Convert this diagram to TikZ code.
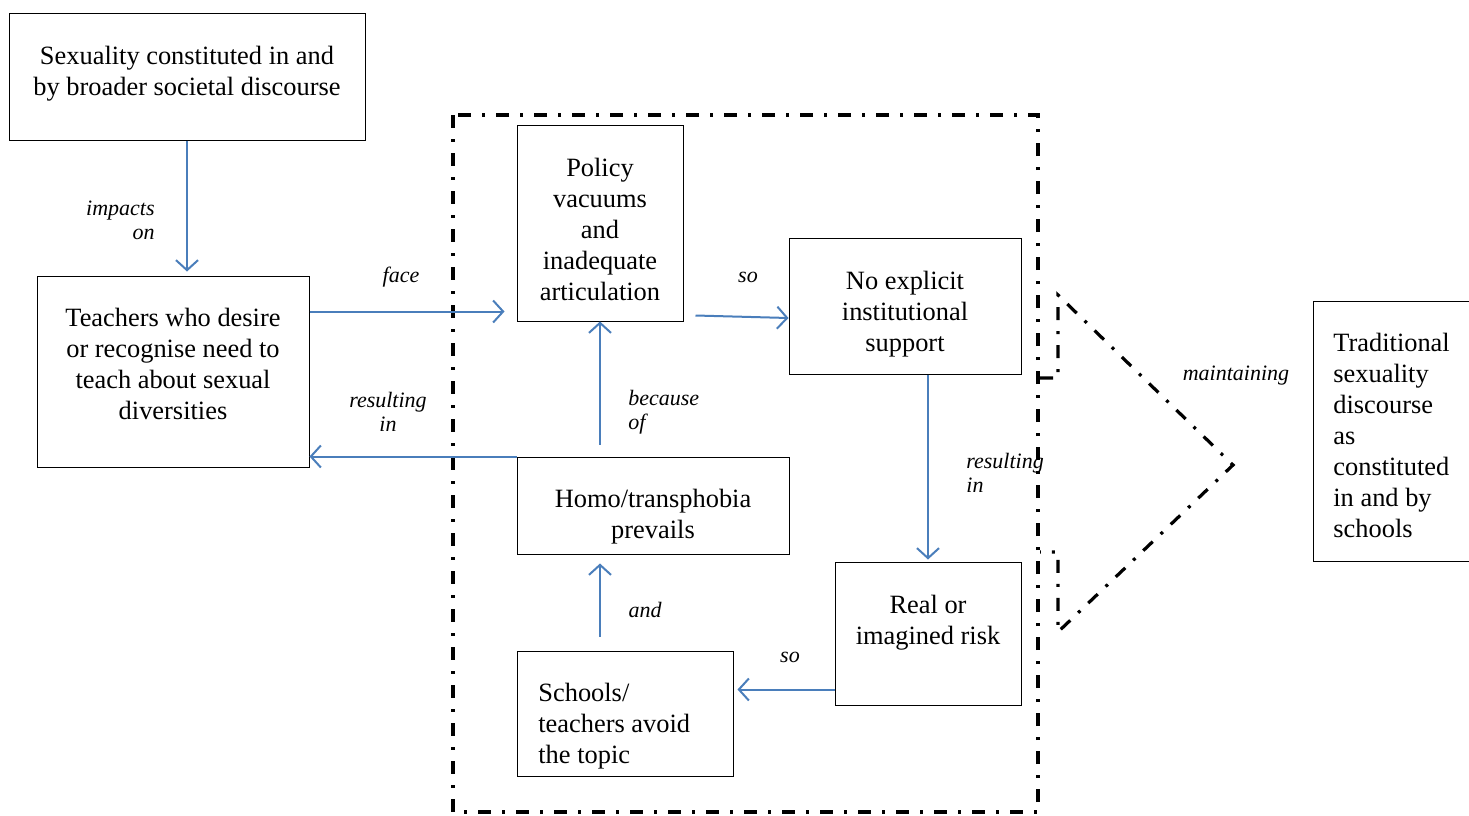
\documentclass[tikz,border=0pt]{standalone}
\usepackage{fontspec}
\setmainfont{Liberation Serif}
\usetikzlibrary{arrows.meta}

\definecolor{flowblue}{HTML}{4A7EBB}

\begin{document}
\begin{tikzpicture}[x=0.5pt, y=-0.5pt,
  box/.style={draw, line width=0.5pt, inner sep=0pt},
  txt/.style={inner sep=0pt, align=center, font=\fontsize{13.2}{15.5}\selectfont},
  flow/.style={draw=flowblue, line width=1pt, -{Straight Barb[length=5pt, width=11pt, line width=1pt]}},
  lbl/.style={font=\fontsize{11}{12}\selectfont\itshape, inner sep=0pt},
  frame/.style={line width=1.6pt, dash pattern=on 6.5pt off 5.5pt on 1.5pt off 5.5pt}]
\useasboundingbox (0,0) rectangle (1469,815);

  % outer discourse
  \node[box, minimum width=178pt, minimum height=63.5pt] (sexdisc) at (187,76.5) {};
  \node[txt] (sexdisc-t) at (187,74) {Sexuality constituted in and\\by broader societal discourse};
  \node[box, minimum width=136pt, minimum height=95.5pt] (teachers) at (173,371.5) {};
  \node[txt] (teachers-t) at (173,363.5) {Teachers who desire\\or recognise need to\\teach about sexual\\diversities};

  % school field
  \draw[frame] (453,115) rectangle (1038,812);
  \node[box, minimum width=83pt, minimum height=98pt] (policy) at (600,223) {};
  \node[txt] (policy-t) at (600,229) {Policy\\vacuums\\and\\inadequate\\articulation};
  \node[box, minimum width=116pt, minimum height=68pt] (support) at (905,306) {};
  \node[txt] (support-t) at (905,314) {No explicit\\institutional\\support};
  \node[box, minimum width=136pt, minimum height=48.5pt] (phobia) at (653,505.5) {};
  \node[txt] (phobia-t) at (653,516.5) {Homo/transphobia\\prevails};
  \node[box, minimum width=93pt, minimum height=71.5pt] (risk) at (928,633.5) {};
  \node[txt] (risk-t) at (928,623) {Real or\\imagined risk};
  \node[box, minimum width=108pt, minimum height=62.5pt] (schools) at (625,713.5) {};
  \node[txt, align=left, anchor=west] (schools-t) at (538,726) {Schools/\\teachers avoid\\the topic};

  % maintaining bracket
  \draw[frame] (1040,378) -- (1058,378) -- (1058,295) -- (1233,465)
        -- (1058,632) -- (1058,552) -- (1040,552);
  \node[box, minimum width=85pt, minimum height=130pt] (tradition) at (1398,431) {};
  \node[txt, align=left, anchor=west] (tradition-t) at (1333,435.5)
        {Traditional\\sexuality\\discourse\\as\\constituted\\in and by\\schools};

  % connectors
  \draw[flow] (sexdisc.south) -- ([yshift=2pt]sexdisc.south |- teachers.north);
  \draw[flow] ([yshift=30pt]teachers.east) -- ([yshift=30pt, xshift=-6pt]teachers.east -| policy.west);
  \draw[flow] ([shift={(6pt,3pt)}]policy.south east) -- ([yshift=-6pt]support.west);
  \draw[flow] (phobia.north west) -- (phobia.north west -| teachers.east);
  \draw[flow] ([yshift=6pt]phobia.north -| policy.south) -- (policy.south);
  \draw[flow] ([yshift=7pt]schools.north -| policy.south) -- ([yshift=-4.5pt]phobia.south -| policy.south);
  \draw[flow] (risk.north |- support.south) -- ([yshift=1pt]risk.north);
  \draw[flow] ([yshift=-28pt]risk.west) -- ([yshift=-28pt, xshift=2pt]risk.west -| schools.east);

  % connector labels
  \node[lbl, align=right, anchor=east] (impacts) at (155,220) {impacts\\on};
  \node[lbl] (face) at (401,277) {face};
  \node[lbl] (so1) at (748,277) {so};
  \node[lbl, align=center] (result1) at (388,412) {resulting\\in};
  \node[lbl, align=left, anchor=west] (because) at (628,412) {because\\of};
  \node[lbl] (and) at (645,610) {and};
  \node[lbl, align=left, anchor=west] (result2) at (966,473) {resulting\\in};
  \node[lbl] (so2) at (790,657) {so};
  \node[lbl] (maintain) at (1236,376) {maintaining};
\end{tikzpicture}
\end{document}
